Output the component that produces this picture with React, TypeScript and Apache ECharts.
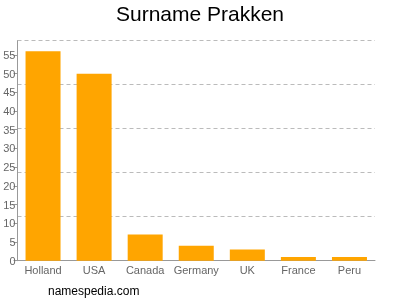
import React, { useEffect, useRef } from "react";
import * as echarts from "echarts";

const categories = ["Holland", "USA", "Canada", "Germany", "UK", "France", "Peru"];
const counts = [56, 50, 7, 4, 3, 1, 1];
const yMax = 58.8;
const yStep = 5;
const gridDivisions = 5;

export default function App() {
  const ref = useRef<HTMLDivElement>(null);
  useEffect(() => {
    if (!ref.current) return;
    const chart = echarts.init(ref.current, null, { renderer: "svg" });
    const font = "'Liberation Sans', Arial, sans-serif";
    chart.setOption({
      animation: false,
      textStyle: { fontFamily: font },
      title: {
        text: "Surname Prakken",
        left: "center",
        top: 3,
        padding: 0,
        textStyle: { fontFamily: font, fontSize: 21, fontWeight: "normal", color: "#000" },
      },
      graphic: [
        {
          type: "text",
          left: 48,
          top: 285,
          style: { text: "namespedia.com", fontFamily: font, fontSize: 12, fill: "#000" },
        },
      ],
      grid: { left: 17.5, right: 25, top: 40.7, bottom: 39.3, containLabel: false },
      xAxis: {
        type: "category",
        data: categories,
        axisLine: { lineStyle: { color: "#999" } },
        axisTick: { alignWithLabel: true, length: 4, lineStyle: { color: "#999" } },
        axisLabel: { color: "#666", fontSize: 11, fontFamily: font, margin: 4, interval: 0 },
      },
      yAxis: [
        {
          type: "value",
          min: 0,
          max: yMax,
          interval: yStep,
          axisLine: { show: true, lineStyle: { color: "#999" } },
          axisTick: { show: true, length: 4, lineStyle: { color: "#999" } },
          axisLabel: { color: "#666", fontSize: 11, fontFamily: font, margin: 2, showMaxLabel: false },
          splitLine: { show: false },
        },
        {
          type: "value",
          min: 0,
          max: gridDivisions,
          interval: 1,
          position: "left",
          axisLine: { show: false },
          axisTick: { show: false },
          axisLabel: { show: false },
          splitLine: { show: true, lineStyle: { color: "#bbb", type: [4, 3], width: 1 } },
        },
      ],
      series: [
        {
          type: "bar",
          data: counts,
          yAxisIndex: 0,
          barWidth: 35,
          itemStyle: { color: "#FFA500" },
        },
      ],
    });
    return () => chart.dispose();
  }, []);
  return <div ref={ref} style={{ position: "fixed", left: 0, top: 0, width: 400, height: 300 }} />;
}
